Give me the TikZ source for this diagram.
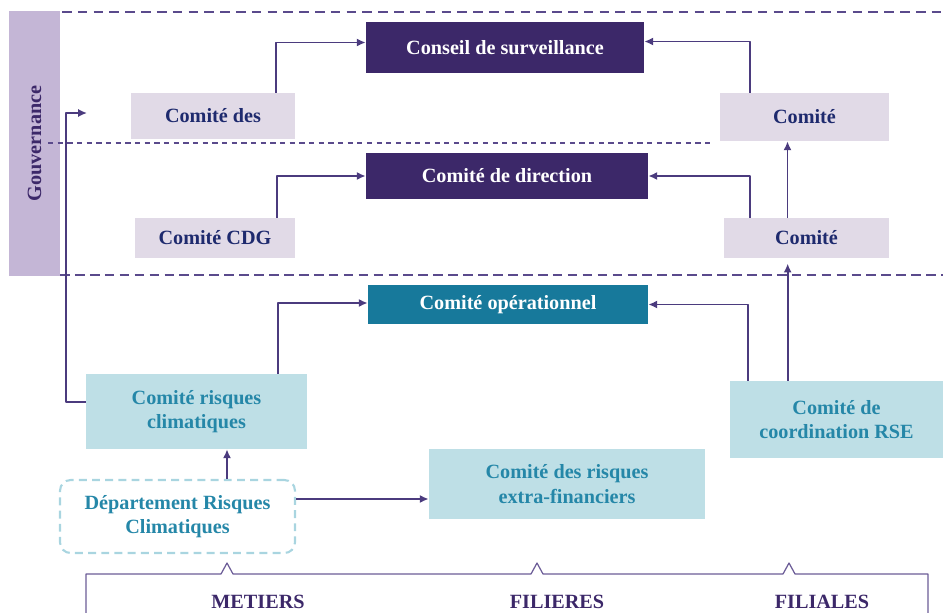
\documentclass[tikz,border=0pt]{standalone}
\usepackage{fontspec}
\setmainfont{Liberation Serif}
\usepackage{tikz}
\usetikzlibrary{arrows.meta,calc}
\definecolor{govlilac}{HTML}{C4B6D6}
\definecolor{deeppurple}{HTML}{3C2869}
\definecolor{linepurple}{HTML}{4B3B7E}
\definecolor{dashpurple}{HTML}{5A4A8C}
\definecolor{lavender}{HTML}{E1DAE7}
\definecolor{navytext}{HTML}{1E2A6E}
\definecolor{opteal}{HTML}{17799B}
\definecolor{paleblue}{HTML}{BEDFE6}
\definecolor{bluetext}{HTML}{2587A8}
\definecolor{dashblue}{HTML}{A9D5E0}

\begin{document}
\begin{tikzpicture}[x=0.02cm,y=-0.02cm,join=round,>={Latex[length=5pt,width=4.6pt]},
    lbl/.style={font=\bfseries\fontsize{11.5}{14}\selectfont,align=center,inner sep=0pt},
    darkbox/.style={lbl,fill=deeppurple,text=white},
    tealbox/.style={lbl,fill=opteal,text=white},
    lilacbox/.style={lbl,fill=lavender,text=navytext},
    bluebox/.style={lbl,fill=paleblue,text=bluetext},
    deptbox/.style={lbl,draw=dashblue,line width=1.2pt,dash pattern=on 4.5pt off 3pt,rounded corners=6pt,text=bluetext},
    govbar/.style={lbl,fill=govlilac,text=deeppurple},
    bottomlbl/.style={lbl,text=deeppurple},
    link/.style={->,draw=linepurple,line width=1pt},
    sepline/.style={draw=dashpurple,line width=0.7pt,dash pattern=on 5.5pt off 3.5pt},
    bracketline/.style={draw=dashpurple!90,line width=0.7pt}]
  \useasboundingbox (0,0) rectangle (943,612);

  \node[govbar,rotate=90,minimum width=5.3cm,minimum height=1.02cm] (gov) at (34.5,143.5) {Gouvernance};

  \draw[sepline] (62,12) -- (943,12);
  \draw[sepline,dash pattern=on 3pt off 2.5pt] (48,143) -- (714,143);
  \draw[sepline,line width=1pt,dash pattern=on 5.5pt off 3pt] (60,275) -- (943,275);

  \node[darkbox,minimum width=5.56cm,minimum height=1.02cm] (cons) at (505,47.5) {Conseil de surveillance};
  \node[darkbox,minimum width=5.64cm,minimum height=0.92cm] (codir) at (507,176) {Comité de direction};
  \node[tealbox,minimum width=5.6cm,minimum height=0.78cm] (coop) at (508,304.5) {Comité opérationnel};

  \node[lilacbox,minimum width=3.28cm,minimum height=0.92cm] (cdes) at (213,116) {Comité des};
  \node[lilacbox,minimum width=3.38cm,minimum height=0.96cm] (cright) at (804.5,117) {Comité};
  \node[lilacbox,minimum width=3.2cm,minimum height=0.8cm] (ccdg) at (215,238) {Comité CDG};
  \node[lilacbox,minimum width=3.3cm,minimum height=0.8cm] (cmid) at (806.5,238) {Comité};

  \node[bluebox,minimum width=4.42cm,minimum height=1.5cm] (crc) at (196.5,411.5) {Comité risques\\climatiques};
  \node[bluebox,minimum width=4.26cm,minimum height=1.54cm] (crse) at (836.5,419.5) {Comité de\\coordination RSE};
  \node[bluebox,minimum width=5.52cm,minimum height=1.4cm] (cref) at (567,484) {Comité des risques\\extra-financiers};
  \node[deptbox,minimum width=4.7cm,minimum height=1.46cm] (drc) at (177.5,516.5) {Département Risques\\Climatiques};

  \coordinate (cdesUp) at ($(cdes.north east)+(-19,0)$);
  \coordinate (crightUp) at ($(cright.north west)+(30,0)$);
  \coordinate (ccdgUp) at ($(ccdg.north east)+(-18,0)$);
  \coordinate (cmidUp) at ($(cmid.north west)+(26,0)$);
  \coordinate (cmidTop) at ($(cmid.north)+(-19,0)$);
  \coordinate (crseTop) at ($(crse.north west)+(58,0)$);
  \coordinate (crseUp) at ($(crse.north west)+(18,0)$);
  \coordinate (crcUp) at ($(crc.north east)+(-29,0)$);
  \coordinate (crcOut) at ($(crc.west)+(0,-9.5)$);
  \coordinate (govin) at (87,113);
  \coordinate (drcUp) at ($(drc.north)+(49.5,0)$);
  \coordinate (drcOut) at ($(drc.east)+(0,-17.5)$);

  \draw[link] (cdesUp) |- ($(cons.west)+(0,-5)$);
  \draw[link] (crightUp) |- ($(cons.east)+(0,-6)$);
  \draw[link] (ccdgUp) |- (codir.west);
  \draw[link] (cmidUp) |- (codir.east);
  \draw[link] (cmidTop) -- (cmidTop |- cright.south);
  \draw[link,shorten >=3pt] (crseTop) -- (crseTop |- cmid.south);
  \draw[link] (crseUp) |- (coop.east);
  \draw[link] (crcUp) |- ($(coop.west)+(0,-1.5)$);
  \draw[link] (crcOut) -| ($(govin)+(-21,0)$) -- (govin);
  \draw[link] (drcUp) -- (drcUp |- crc.south);
  \draw[link] (drcOut) -- (drcOut -| cref.west);

  \draw[bracketline] (86,614) -- (86,574) -- (221,574) -- (227,563) -- (233,574) -- (531,574) -- (537,563) -- (543,574)
      -- (783,574) -- (789,563) -- (795,574) -- (928,574) -- (928,614);
  \node[bottomlbl] (metiers) at (258,602) {METIERS};
  \node[bottomlbl] (filieres) at (557,602) {FILIERES};
  \node[bottomlbl] (filiales) at (822,602) {FILIALES};
\end{tikzpicture}
\end{document}
